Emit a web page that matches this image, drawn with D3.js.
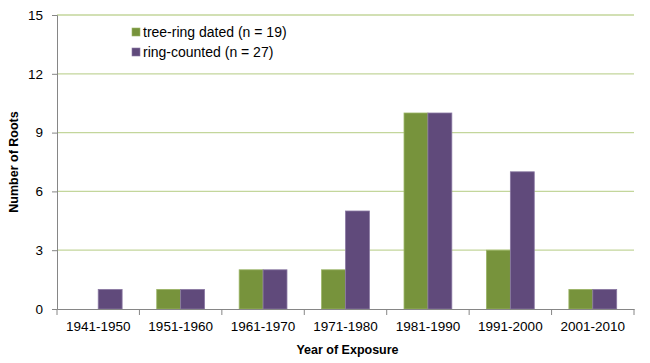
<!DOCTYPE html>
<html>
<head>
<meta charset="utf-8">
<script src="https://cdn.jsdelivr.net/npm/d3@7"></script>
<style>
  body { margin: 0; background: #fff; }
  text { font-family: "Liberation Sans", Arial, sans-serif; fill: #000; }
</style>
</head>
<body>
<div id="chart"></div>
<script>
// chart data
const categories = ['1941-1950', '1951-1960', '1961-1970', '1971-1980', '1981-1990', '1991-2000', '2001-2010'];
const treeRingDated = [0, 1, 2, 2, 10, 3, 1];
const ringCounted = [1, 1, 2, 5, 10, 7, 1];
const seriesNames = ['tree-ring dated (n = 19)', 'ring-counted (n = 27)'];
const yTicks = [0, 3, 6, 9, 12, 15];

const colors = ['#77933c', '#604a7b'];
const edges = ['#9bb565', '#8a78a3'];

const W = 650, H = 363;
const margin = { top: 15, right: 16, bottom: 54, left: 57 };
const width = W - margin.left - margin.right;
const height = H - margin.top - margin.bottom;

const svg = d3.select('#chart')
    .append('svg')
    .attr('width', W)
    .attr('height', H)
    .append('g')
    .attr('transform', `translate(${margin.left}, ${margin.top})`);

const x = d3.scaleBand()
    .domain(categories)
    .range([0, width])
    .paddingInner(0.42)
    .paddingOuter(0.21);

const xSub = d3.scaleBand()
    .domain([0, 1])
    .range([0, x.bandwidth()]);

const y = d3.scaleLinear()
    .domain([0, 15])
    .range([height, 0]);

// gridlines
svg.append('g')
    .selectAll('line')
    .data(yTicks.filter(d => d > 0))
    .join('line')
    .attr('x1', 0)
    .attr('x2', width)
    .attr('y1', d => y(d))
    .attr('y2', d => y(d))
    .style('stroke', '#c3d69b')
    .style('stroke-width', 1.3);

// bars
const rows = categories.map((c, i) => ({ c, vals: [treeRingDated[i], ringCounted[i]] }));
const groups = svg.append('g')
    .selectAll('g')
    .data(rows)
    .join('g')
    .attr('transform', d => `translate(${x(d.c)}, 0)`);

groups.selectAll('rect')
    .data(d => d.vals.map((v, k) => ({ v, k })).filter(e => e.v > 0))
    .join('rect')
    .attr('x', d => xSub(d.k))
    .attr('y', d => y(d.v))
    .attr('width', xSub.bandwidth())
    .attr('height', d => height - y(d.v))
    .style('fill', d => colors[d.k])
    .style('stroke', d => edges[d.k])
    .style('stroke-width', 0.8);

// y axis
const yAxis = d3.axisLeft(y).tickValues(yTicks).tickSize(5).tickPadding(9);
const yg = svg.append('g').attr('class', 'y-axis').call(yAxis);
yg.selectAll('text').style('font-size', '13.5px').style('font-family', '"Liberation Sans", Arial, sans-serif');

// x axis with ticks at category boundaries
const xg = svg.append('g')
    .attr('class', 'x-axis')
    .attr('transform', `translate(0, ${height})`)
    .call(d3.axisBottom(x).tickSize(0).tickPadding(12));
xg.selectAll('text').style('font-size', '13.5px').style('font-family', '"Liberation Sans", Arial, sans-serif');
xg.selectAll('.bound')
    .data(d3.range(categories.length + 1))
    .join('line')
    .attr('class', 'bound')
    .attr('x1', i => i * width / categories.length)
    .attr('x2', i => i * width / categories.length)
    .attr('y1', 0)
    .attr('y2', 6);

svg.selectAll('.domain, .tick line, .bound')
    .style('stroke', '#868686')
    .style('stroke-width', 1);

// axis titles
svg.append('text')
    .attr('x', width / 2 + 2)
    .attr('y', height + 45)
    .attr('text-anchor', 'middle')
    .style('font-size', '12.5px')
    .style('font-weight', 'bold')
    .text('Year of Exposure');

svg.append('text')
    .attr('transform', `translate(${-39}, ${height / 2}) rotate(-90)`)
    .attr('text-anchor', 'middle')
    .style('font-size', '12.5px')
    .style('font-weight', 'bold')
    .text('Number of Roots');

// legend
const legend = svg.append('g').attr('transform', 'translate(75, 13)');
seriesNames.forEach((name, i) => {
    const row = legend.append('g').attr('transform', `translate(0, ${i * 20})`);
    row.append('rect')
        .attr('width', 8)
        .attr('height', 8)
        .attr('y', 0)
        .style('fill', colors[i])
        .style('stroke', edges[i])
        .style('stroke-width', 0.6);
    row.append('text')
        .attr('x', 11)
        .attr('y', 9)
        .style('font-size', '14px')
        .text(name);
});
</script>
</body>
</html>
